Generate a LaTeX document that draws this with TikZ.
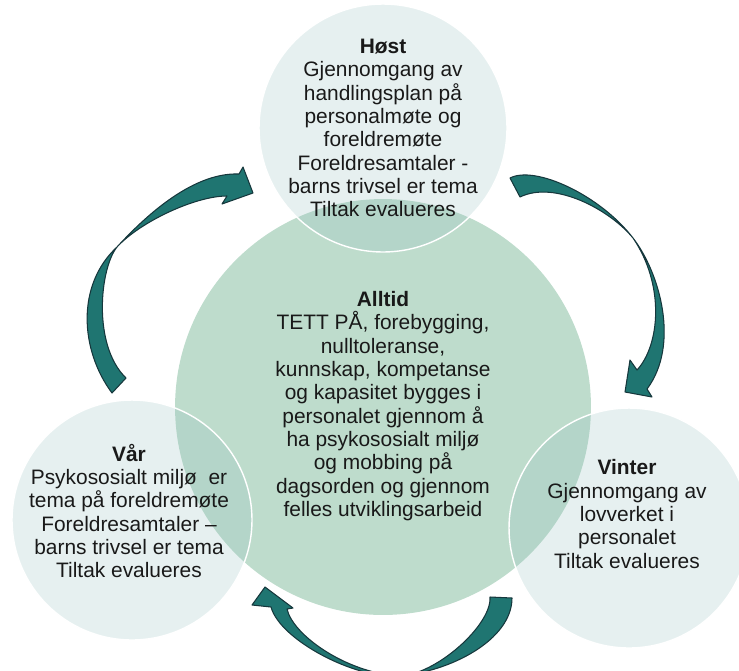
\documentclass[tikz,border=0pt]{standalone}
\usepackage{fontspec}
\setmainfont{Liberation Sans}
\definecolor{alltidfill}{RGB}{190,220,204}
\definecolor{seasonfill}{RGB}{151,193,192}
\definecolor{arrowfill}{RGB}{31,117,113}
\definecolor{arrowline}{RGB}{22,55,60}
\definecolor{textcol}{RGB}{25,25,25}

\begin{document}
\begin{tikzpicture}[x=0.02cm,y=-0.02cm]
		\tikzstyle{every node}+=[inner sep=0pt]
		\tikzstyle{season}=[circle, fill=seasonfill, fill opacity=0.24, draw=white, line width=0.8pt]
		\tikzstyle{txt}=[align=center, text=textcol, font=\fontsize{11.9}{13.3}\selectfont]
		\tikzstyle{cyclearrow}=[fill=arrowfill, draw=arrowline, line width=0.6pt, line join=round]
		\useasboundingbox (0,0) rectangle (739,670);
		\clip (0,0) rectangle (739,670);
		% circles
		\node [circle, fill=alltidfill, minimum size=8.32cm] (alltid) at (383,407) {};
		\node [season, minimum size=4.96cm] (host) at (383,128) {};
		\node [season, minimum size=4.8cm] (var) at (132,520) {};
		\node [season, minimum size=4.8cm] (vinter) at (629,528) {};
		% texts
		\node [txt] (hosttext) at (383,128) {\textbf{Høst}\\Gjennomgang av\\handlingsplan på\\personalmøte og\\foreldremøte\\Foreldresamtaler -\\barns trivsel er tema\\Tiltak evalueres};
		\node [txt] (alltidtext) at (383,406) {\textbf{Alltid}\\TETT PÅ, forebygging,\\nulltoleranse,\\kunnskap, kompetanse\\og kapasitet bygges i\\personalet gjennom å\\ha psykososialt miljø\\og mobbing på\\dagsorden og gjennom\\felles utviklingsarbeid};
		\node [txt] (vartext) at (129,511) {\textbf{Vår}\\Psykososialt miljø\ \ er\\tema på foreldremøte\\Foreldresamtaler –\\barns trivsel er tema\\Tiltak evalueres};
		\node [txt] (vintertext) at (627,514) {\textbf{Vinter}\\Gjennomgang av\\lovverket i\\personalet\\Tiltak evalueres};
		% arrows: var -> host
		\draw [cyclearrow] (112,393) .. controls (80,350) and (76,285) .. (117,247)
			.. controls (140,222) and (190,172) .. (239,174)
			-- (243,167) -- (253,193) -- (222,204) -- (227,196)
			.. controls (195,196) and (140,222) .. (117,247)
			.. controls (100,268) and (92,345) .. (126,378) -- cycle;
		% host -> vinter
		\draw [cyclearrow] (510,178) .. controls (535,165) and (600,195) .. (633,238)
			.. controls (660,273) and (680,345) .. (647,389)
			-- (652,397) -- (625,392) -- (630,360) -- (637,370)
			.. controls (660,345) and (665,285) .. (633,238)
			.. controls (610,210) and (555,180) .. (520,197) -- cycle;
		% vinter -> var
		\draw [cyclearrow] (512,598) .. controls (512,640) and (450,672) .. (398,676)
			.. controls (355,679) and (280,640) .. (271,607)
			-- (252,605) -- (265,587) -- (293,608) -- (287,609)
			.. controls (293,635) and (345,672) .. (398,676)
			.. controls (435,676) and (492,625) .. (490,597) -- cycle;
\end{tikzpicture}
\end{document}
